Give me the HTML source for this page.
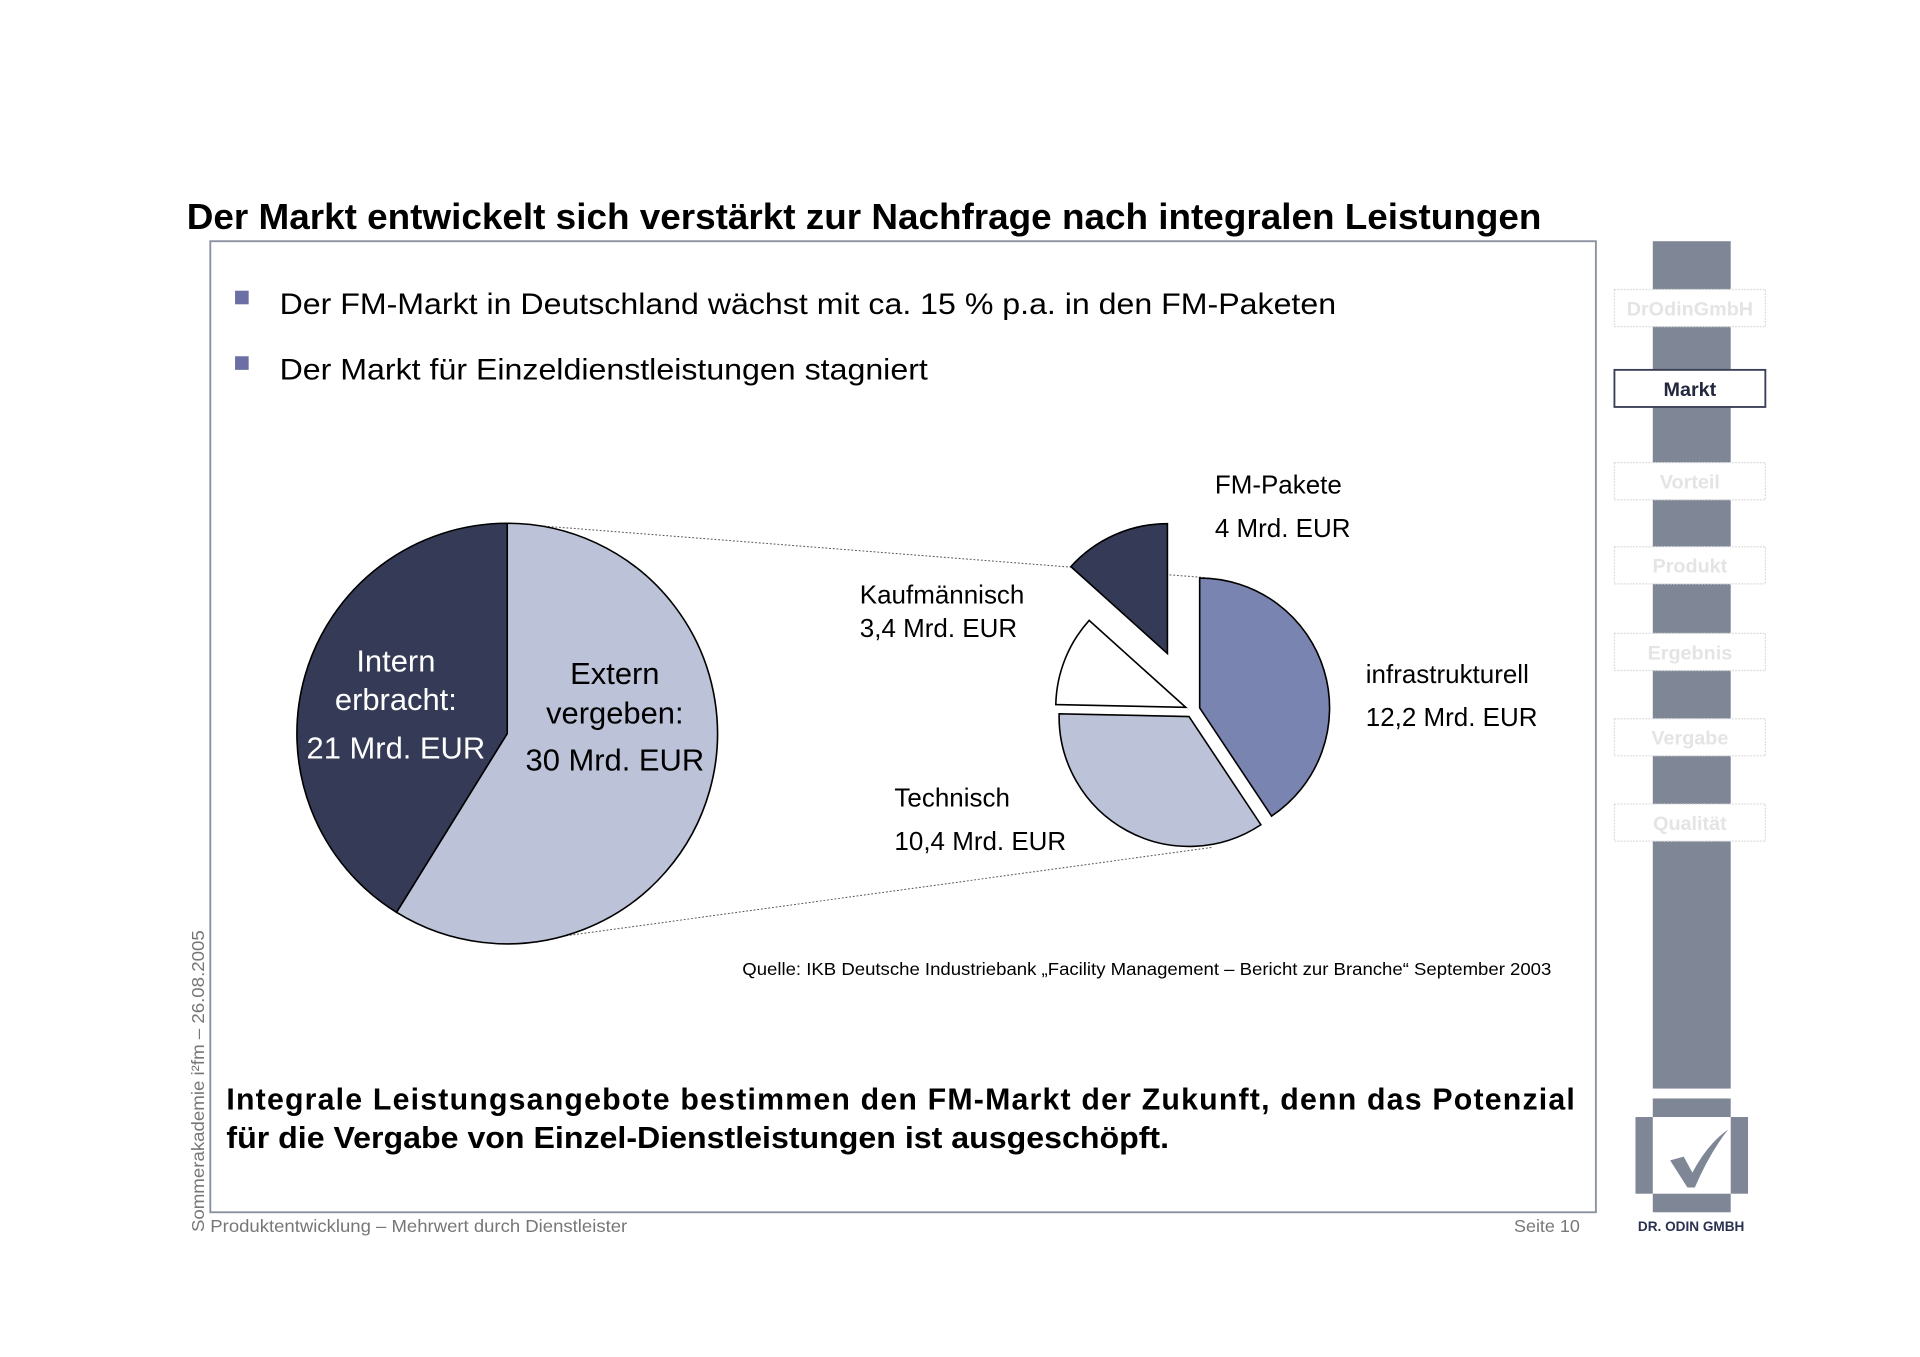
<!DOCTYPE html>
<html><head><meta charset="utf-8"><style>
html,body{margin:0;padding:0;background:#fff;}
svg{display:block;font-family:"Liberation Sans",Arial,sans-serif;}
</style></head><body>
<svg width="1920" height="1357" viewBox="0 0 1552 1097" preserveAspectRatio="none">
<text x="151" y="185" font-size="29" font-weight="bold" fill="#000" textLength="1095" lengthAdjust="spacingAndGlyphs">Der Markt entwickelt sich verstärkt zur Nachfrage nach integralen Leistungen</text>
<rect x="170" y="195" width="1120" height="785" fill="none" stroke="#8a90a0" stroke-width="1.5"/>
<rect x="190" y="235" width="11" height="11" fill="#6b6fa3"/>
<text x="226" y="254" font-size="24" fill="#000" textLength="854" lengthAdjust="spacingAndGlyphs">Der FM-Markt in Deutschland wächst mit ca. 15 % p.a. in den FM-Paketen</text>
<rect x="190" y="288" width="11" height="11" fill="#6b6fa3"/>
<text x="226" y="307" font-size="24" fill="#000" textLength="524" lengthAdjust="spacingAndGlyphs">Der Markt für Einzeldienstleistungen stagniert</text>

<g id="charts"></g>

<g font-size="21" fill="#000">
<text x="982" y="399">FM-Pakete</text>
<text x="982" y="434">4 Mrd. EUR</text>
<text x="695" y="488">Kaufmännisch</text>
<text x="695" y="515">3,4 Mrd. EUR</text>
<text x="1104" y="552">infrastrukturell</text>
<text x="1104" y="587">12,2 Mrd. EUR</text>
<text x="723" y="652">Technisch</text>
<text x="723" y="687">10,4 Mrd. EUR</text>
</g>
<g font-size="25" text-anchor="middle">
<text x="320" y="543" fill="#fff">Intern</text>
<text x="320" y="574" fill="#fff">erbracht:</text>
<text x="320" y="613" fill="#fff">21 Mrd. EUR</text>
<text x="497" y="553" fill="#000">Extern</text>
<text x="497" y="585" fill="#000">vergeben:</text>
<text x="497" y="623" fill="#000">30 Mrd. EUR</text>
</g>
<text x="600" y="788" font-size="14.5" fill="#000" textLength="654" lengthAdjust="spacingAndGlyphs">Quelle: IKB Deutsche Industriebank „Facility Management – Bericht zur Branche“ September 2003</text>
<text x="183" y="897" font-size="24.5" font-weight="bold" fill="#000" textLength="1090" lengthAdjust="spacing">Integrale Leistungsangebote bestimmen den FM-Markt der Zukunft, denn das Potenzial</text>
<text x="183" y="928" font-size="24.5" font-weight="bold" fill="#000" textLength="762" lengthAdjust="spacingAndGlyphs">für die Vergabe von Einzel-Dienstleistungen ist ausgeschöpft.</text>
<text x="170" y="996" font-size="14.5" fill="#777" textLength="337" lengthAdjust="spacingAndGlyphs">Produktentwicklung – Mehrwert durch Dienstleister</text>
<text x="1277" y="996" font-size="14.5" fill="#777" text-anchor="end">Seite 10</text>
<text transform="translate(165,996) rotate(-90)" font-size="14" fill="#777" textLength="244" lengthAdjust="spacingAndGlyphs">Sommerakademie i²fm – 26.08.2005</text>

<rect x="1336" y="195" width="63" height="685" fill="#7f8797"/>
<g id="nav" font-size="16" font-weight="bold" text-anchor="middle"></g>

<g>
<rect x="1336" y="888" width="63" height="15" fill="#7f8797"/>
<rect x="1322" y="903" width="14" height="62" fill="#7f8797"/>
<rect x="1399" y="903" width="14" height="62" fill="#7f8797"/>
<rect x="1336" y="965" width="63" height="15" fill="#7f8797"/>
<path d="M1350 938 L1361 935 L1368 948 Q1380 925 1397 913 Q1382 932 1370 960 L1364 960 Z" fill="#7f8797"/>
<text x="1367" y="995" font-size="11" font-weight="bold" fill="#2a3150" text-anchor="middle">DR. ODIN GMBH</text>
</g>
</svg>
<script>
const bigCategories=["Extern vergeben","Intern erbracht"];
const bigValues=[30,21];
const bigColors=["#bcc2d8","#353b56"];
const smallCategories=["infrastrukturell","Technisch","Kaufmännisch","FM-Pakete"];
const smallValues=[12.2,10.4,3.4,4];
const smallColors=["#7a84b0","#bcc2d8","#ffffff","#353b56"];
const smallExplode=[6,6,6,50];
const navItems=["DrOdinGmbH","Markt","Vorteil","Produkt","Ergebnis","Vergabe","Qualität"];
const navActive=[false,true,false,false,false,false,false];

const NS="http://www.w3.org/2000/svg";
const g=document.getElementById("charts");
function pt(cx,cy,r,a){return [cx+r*Math.sin(a),cy-r*Math.cos(a)];}
function slice(cx,cy,r,a0,a1,fill,name){
  const p0=pt(cx,cy,r,a0),p1=pt(cx,cy,r,a1);
  const large=(a1-a0)>Math.PI?1:0;
  const p=document.createElementNS(NS,"path");
  p.setAttribute("d",`M${cx} ${cy} L${p0[0]} ${p0[1]} A${r} ${r} 0 ${large} 1 ${p1[0]} ${p1[1]} Z`);
  p.setAttribute("fill",fill);p.setAttribute("stroke","#000");p.setAttribute("stroke-width","1.3");
  
  
  g.appendChild(p);
}
function line(x1,y1,x2,y2,name){
  const l=document.createElementNS(NS,"line");
  l.setAttribute("x1",x1);l.setAttribute("y1",y1);l.setAttribute("x2",x2);l.setAttribute("y2",y2);
  l.setAttribute("stroke","#555");l.setAttribute("stroke-width","0.8");l.setAttribute("stroke-dasharray","1.5 1.5");
  
  
  g.appendChild(l);
}
const BX=410,BY=593,BR=170;
line(BX,BY-BR,975,467,"connector-top");
line(BX,BY+BR,980,685,"connector-bottom");
let tot=bigValues.reduce((a,b)=>a+b,0),a=0;
bigValues.forEach((v,i)=>{const a1=a+v/tot*2*Math.PI;slice(BX,BY,BR,a,a1,bigColors[i],"big-pie-"+bigCategories[i].toLowerCase().replace(/\s+/g,"-"));a=a1;});
const SX=964,SY=574,SR=105;
tot=smallValues.reduce((x,y)=>x+y,0);a=0;
smallValues.forEach((v,i)=>{const a1=a+v/tot*2*Math.PI;const m=(a+a1)/2;
  const cx=SX+smallExplode[i]*Math.sin(m),cy=SY-smallExplode[i]*Math.cos(m);
  slice(cx,cy,SR,a,a1,smallColors[i],"small-pie-"+smallCategories[i].toLowerCase().replace(/[^a-z]+/g,"-"));a=a1;});
const nav=document.getElementById("nav");
const navY=[249,314,389,457,527,596,665];
navItems.forEach((t,i)=>{
  const r=document.createElementNS(NS,"rect");
  r.setAttribute("x",1305);r.setAttribute("y",navY[i]-15);r.setAttribute("width",122);r.setAttribute("height",30);
  r.setAttribute("fill","#fff");
  r.setAttribute("stroke",navActive[i]?"#3a3f55":"#dcdcdc");
  r.setAttribute("stroke-width",navActive[i]?1.5:1);
  if(!navActive[i])r.setAttribute("stroke-dasharray","1.5 1");
  
  
  nav.appendChild(r);
  const tx=document.createElementNS(NS,"text");
  tx.setAttribute("x",1366);tx.setAttribute("y",navY[i]+6);
  tx.setAttribute("fill",navActive[i]?"#23283f":"#e4e4e4");
  tx.textContent=t;
  
  
  nav.appendChild(tx);
});
</script>
</body></html>
